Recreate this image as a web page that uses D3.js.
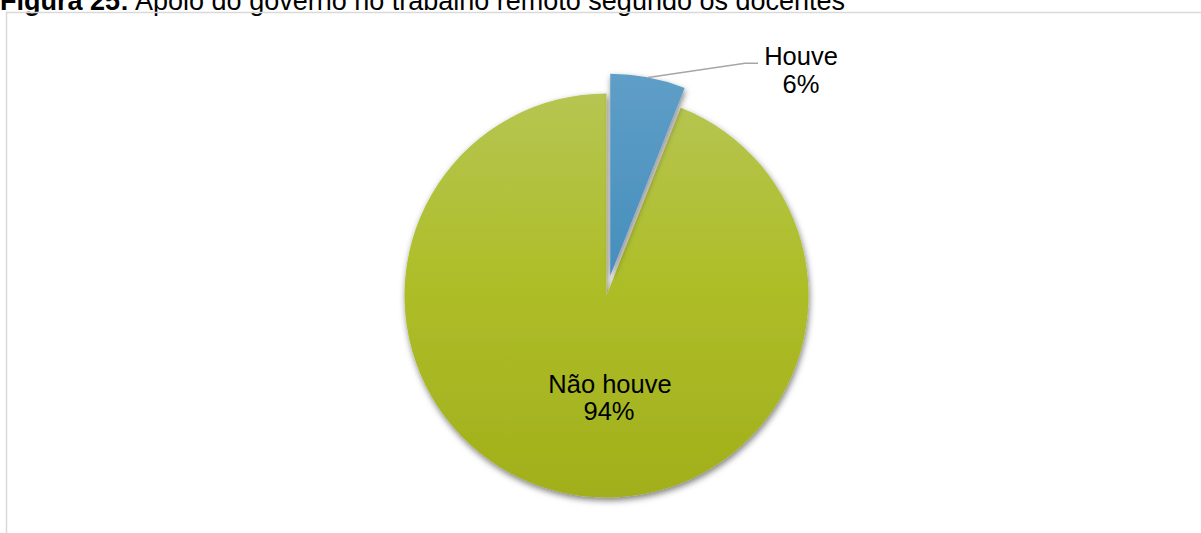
<!DOCTYPE html>
<html>
<head>
<meta charset="utf-8">
<script src="https://cdn.jsdelivr.net/npm/d3@7"></script>
<style>
  html, body { margin: 0; padding: 0; background: #fff; overflow: hidden; }
  svg { display: block; font-family: "Liberation Sans", Arial, sans-serif; }
</style>
</head>
<body>
<svg id="chart" width="1201" height="533"></svg>
<script>
// Apoio do governo no trabalho remoto segundo os docentes
const categories = ["Houve", "Não houve"];
const values = [6, 94];
const percentLabels = ["6%", "94%"];

const width = 1201, height = 533;
const cx = 606.5, cy = 295.5, radius = 202;
const explode = 20;

const svg = d3.select("#chart");
const defs = svg.append("defs");

// vertical gradients for each slice
const gradStops = {
  "Houve": ["#5e9ec7", "#2d7fad"],
  "Não houve": ["#b6c552", "#a1af1b"]
};
categories.forEach((c, i) => {
  const g = defs.append("linearGradient")
    .attr("id", "grad" + i)
    .attr("gradientUnits", "userSpaceOnUse")
    .attr("x1", 0).attr("x2", 0)
    .attr("y1", -radius).attr("y2", radius);
  g.append("stop").attr("offset", "0%").attr("stop-color", gradStops[c][0]);
  g.append("stop").attr("offset", "45%").attr("stop-color", c === "Houve" ? "#4990be" : "#aebe29");
  g.append("stop").attr("offset", "100%").attr("stop-color", gradStops[c][1]);
});

const shadow = defs.append("filter").attr("id", "shadow")
  .attr("x", "-20%").attr("y", "-20%").attr("width", "140%").attr("height", "140%");
shadow.append("feDropShadow")
  .attr("dx", 1).attr("dy", 3).attr("stdDeviation", 3)
  .attr("flood-color", "#000").attr("flood-opacity", 0.5);

// title
const title = svg.append("text")
  .attr("x", 0).attr("y", 9.5)
  .attr("font-size", 27)
  .attr("fill", "#000");
title.append("tspan").attr("font-weight", "bold").text("Figura 25:");
title.append("tspan").text(" Apoio do governo no trabalho remoto segundo os docentes");

// chart area border
svg.append("path")
  .attr("d", `M6.5,${height} V12.5 H${width}`)
  .attr("fill", "none")
  .attr("stroke", "#d9d9d9")
  .attr("stroke-width", 1.5);

const pie = d3.pie().sort(null).value(d => d)(values);
const arc = d3.arc().innerRadius(0).outerRadius(radius);

const gPie = svg.append("g").attr("transform", `translate(${cx},${cy})`);

// draw larger slice first so the exploded slice's shadow sits on top
const order = [1, 0];
order.forEach(i => {
  const d = pie[i];
  const mid = (d.startAngle + d.endAngle) / 2;
  const off = i === 0 ? explode : 0;
  const dx = off * Math.sin(mid), dy = -off * Math.cos(mid);
  gPie.append("path")
    .attr("d", arc(d))
    .attr("transform", `translate(${dx},${dy})`)
    .attr("fill", `url(#grad${i})`)
    .attr("filter", "url(#shadow)");
});

// label for "Houve" with leader line
{
  const d = pie[0];
  const mid = (d.startAngle + d.endAngle) / 2;
  const dx = explode * Math.sin(mid), dy = -explode * Math.cos(mid);
  const a = d.startAngle + (d.endAngle - d.startAngle) * 0.5;
  const px = dx + radius * Math.sin(a), py = dy - radius * Math.cos(a);
  gPie.append("path")
    .attr("d", `M${px},${py} L${745 - cx},${63.3 - cy} H${758 - cx}`)
    .attr("fill", "none").attr("stroke", "#a6a6a6").attr("stroke-width", 1.5);
  const t = svg.append("text").attr("text-anchor", "middle")
    .attr("font-size", 25.5).attr("fill", "#000");
  t.append("tspan").attr("x", 801).attr("y", 65).text(categories[0]);
  t.append("tspan").attr("x", 801).attr("y", 93).text(percentLabels[0]);
}

// label for "Não houve" inside its slice
{
  const t = svg.append("text").attr("text-anchor", "middle")
    .attr("font-size", 25.5).attr("fill", "#000");
  t.append("tspan").attr("x", 610).attr("y", 393).text(categories[1]);
  t.append("tspan").attr("x", 609).attr("y", 420).text(percentLabels[1]);
}
</script>
</body>
</html>
